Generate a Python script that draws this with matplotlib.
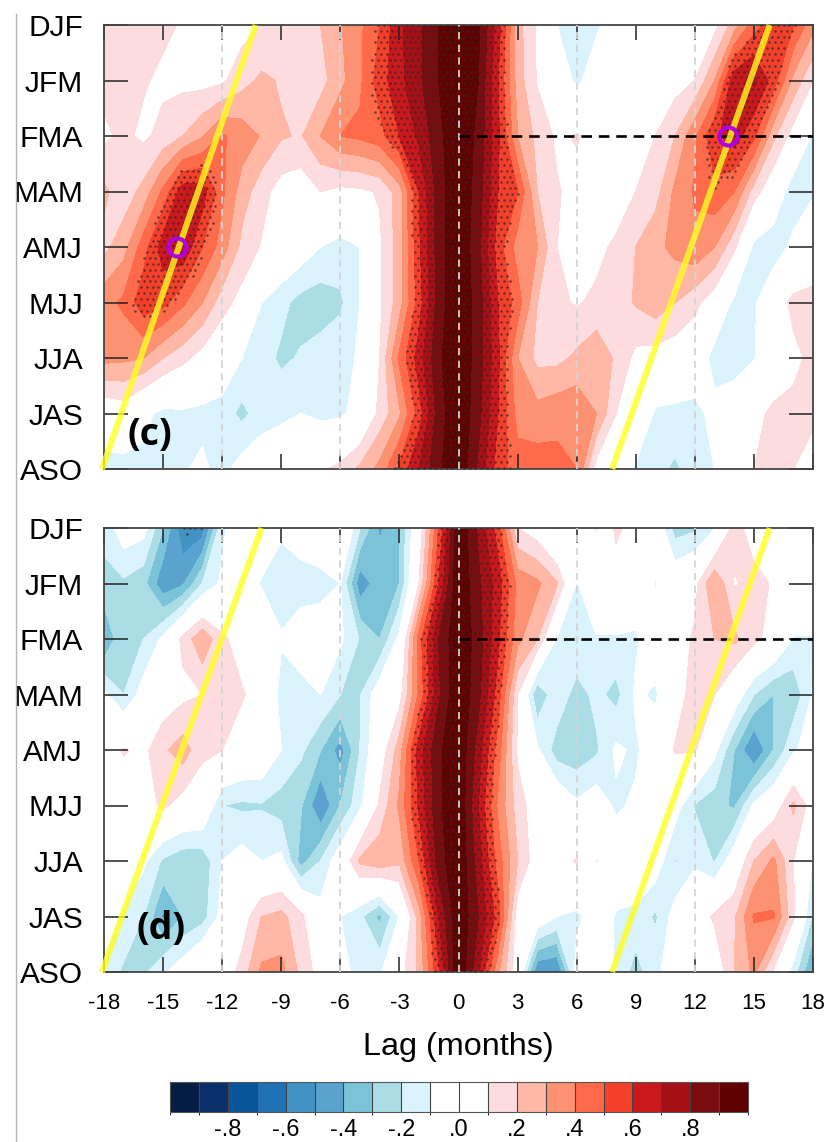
import numpy as np
import matplotlib
matplotlib.use('Agg')
import matplotlib.pyplot as plt
from matplotlib.colors import ListedColormap, BoundaryNorm
from matplotlib.colorbar import ColorbarBase

plt.rcParams['font.family'] = ['Liberation Sans', 'DejaVu Sans']

W, H = 825, 1142

seasons = ['DJF', 'JFM', 'FMA', 'MAM', 'AMJ', 'MJJ', 'JJA', 'JAS', 'ASO']
lags = np.arange(-18, 19)
lag_ticks = np.arange(-18, 19, 3)
levels = np.round(np.arange(-1, 1.01, 0.1), 1)
bar_ticks = [-.8, -.6, -.4, -.2, 0, .2, .4, .6, .8]
bar_labels = ['-.8', '-.6', '-.4', '-.2', '.0', '.2', '.4', '.6', '.8']
colors = ['#051c44', '#08306b', '#08559b', '#2171b5', '#4292c6', '#5ba3cf', '#7bc3d9', '#abdde6',
          '#daf3fd', '#ffffff', '#ffffff', '#fddcdf', '#feb8a5', '#fc9272', '#ff6a4a', '#f4402a',
          '#cb181d', '#a50f15', '#7a0c10', '#600000']

# panel c, one row per season, lag -18 to 18
c_djf = [.15, .14, .13, .12, .09, .06, .05, .06, .1, .13, .16, .2, .29, .38, .5, .68, .78, .9, 1.0,
         .92, .65, .24, .08, -.1, -.15, -.12, -.03, .02, .1, .05, .03, .06, .25, .45, .55, .5, .33]
c_jfm = [.13, .12, .11, .08, .07, .06, .08, .16, .22, .19, .16, .16, .27, .38, .55, .67, .78, .9, 1.0,
         .9, .6, .25, .09, .0, -.13, -.03, 0, .02, .03, .05, .1, .3, .67, .72, .55, .27, .1]
c_fma = [.08, .12, .08, .13, .2, .29, .41, .36, .29, .21, .19, .3, .4, .42, .46, .6, .72, .87, 1.0,
         .87, .62, .3, .17, .08, .11, .05, .03, .05, .1, .2, .38, .58, .65, .52, .22, .05, -.12]
c_mam = [.22, .14, .23, .42, .66, .65, .42, .25, .14, .05, .03, .1, .07, .08, .11, .25, .6, .85, 1.0,
         .85, .6, .5, .2, .11, .06, .02, .03, .1, .16, .32, .41, .47, .4, .15, .0, -.17, -.12]
c_amj = [.17, .26, .45, .65, .68, .5, .35, .17, .09, .03, -.03, -.1, -.14, -.1, .08, .25, .58, .85, 1.0,
         .83, .55, .35, .3, .1, .04, .07, .12, .2, .27, .33, .38, .3, .12, -.13, -.17, -.07, .03]
c_mjj = [.36, .42, .56, .53, .42, .3, .14, .06, -.1, -.17, -.24, -.26, -.22, -.1, .08, .25, .55, .85, 1.0,
         .85, .6, .45, .2, .12, .09, .12, .15, .21, .26, .2, .13, .03, -.13, -.12, .02, .13, .13]
c_jja = [.33, .32, .3, .2, .13, .05, 0, -.1, -.16, -.22, -.19, -.15, -.13, -.09, .1, .42, .65, .88, 1.0,
         .85, .62, .3, .17, .17, .22, .28, .18, .07, .05, .03, 0, -.15, -.17, -.11, .02, .07, .13]
c_jas = [0, .03, -.07, -.13, -.12, -.13, -.15, -.23, -.15, -.13, -.1, -.13, -.12, -.06, .13, .28, .55, .85, 1.0,
         .83, .6, .36, .34, .37, .38, .3, .1, .03, -.12, -.13, -.14, -.06, 0, .07, .12, .13, .13]
c_aso = [-.15, -.15, -.13, -.13, -.11, -.08, -.14, -.05, -.02, .02, .05, .08, .13, .22, .33, .52, .7, .88, 1.0,
         .78, .55, .45, .45, .43, .4, .05, -.02, -.12, -.17, -.22, -.15, -.1, -.02, .1, .14, .1, .03]

# panel d
d_djf = [-.18, -.03, -.06, -.3, -.58, -.56, -.12, -.03, -.02, -.08, -.02, 0, .07, -.2, -.42, -.3, .02, .5, 1.0,
         .78, .55, .1, .03, -.12, -.02, -.12, .13, .03, 0, -.25, -.22, -.11, .14, .05, .02, .02, .02]
d_jfm = [-.22, -.22, -.27, -.48, -.42, -.2, -.08, -.04, -.11, -.16, -.16, -.14, -.1, -.47, -.34, -.3, .1, .6, 1.0,
         .82, .65, .37, .32, .21, -.11, .02, .02, 0, -.11, 0, .06, .3, .09, .13, .09, .03, .02]
d_fma = [-.42, -.2, -.2, -.08, .13, .28, .12, .05, .02, -.09, -.02, -.03, -.08, -.21, -.3, -.07, .45, .8, 1.0,
         .85, .62, .33, .2, -.11, -.1, -.11, -.11, -.12, -.02, .03, .12, .2, .22, .13, .05, -.11, -.11]
d_mam = [-.08, -.2, -.05, .02, .07, .1, .15, .11, .05, -.14, -.15, -.1, -.2, -.21, -.02, .05, .42, .78, 1.0,
         .83, .55, .1, -.3, -.12, -.25, -.17, -.24, -.08, -.12, .04, .15, .1, -.02, -.2, -.3, -.28, -.09]
d_amj = [.02, .11, .07, .18, .25, .12, .1, .04, .02, -.1, -.18, -.3, -.45, -.2, .02, .25, .65, .88, 1.0,
         .75, .45, .08, -.08, -.26, -.27, -.22, -.08, -.12, -.02, .11, .11, -.07, -.3, -.52, -.3, -.12, -.03]
d_mjj = [0, .02, .05, .12, .05, .03, -.2, -.22, -.21, -.25, -.29, -.5, -.3, -.13, .12, .32, .62, .88, 1.0,
         .7, .38, .15, .03, .02, -.08, -.03, -.12, -.08, -.02, -.05, -.21, -.26, -.32, -.08, .01, .22, .03]
d_jja = [0, -.02, -.08, -.22, -.27, -.27, -.1, -.05, -.1, -.07, -.35, -.2, -.02, .22, .27, .22, .5, .85, 1.0,
         .75, .45, .2, .03, .05, .11, -.11, -.02, 0, -.03, -.21, -.12, -.21, -.02, .2, .32, .1, -.11]
d_jas = [-.03, -.12, -.2, -.42, -.3, -.25, -.06, .03, .2, .23, .13, -.05, -.1, -.18, -.33, -.1, .25, .7, 1.0,
         .8, .55, .03, 0, -.1, -.13, -.03, -.11, -.13, -.22, -.05, .01, .12, .18, .41, .41, .12, -.22]
d_aso = [-.13, -.22, -.22, -.12, -.03, .1, .02, .14, .32, .33, .17, .05, -.08, -.12, -.12, .05, .22, .58, 1.0,
         .72, .32, .02, -.5, -.52, -.05, -.03, -.11, -.25, -.12, -.05, -.1, 0, .2, .32, .08, -.15, -.42]

c_rows = [c_djf, c_jfm, c_fma, c_mam, c_amj, c_mjj, c_jja, c_jas, c_aso]
d_rows = [d_djf, d_jfm, d_fma, d_mam, d_amj, d_mjj, d_jja, d_jas, d_aso]

cmap = ListedColormap(colors)
norm = BoundaryNorm(levels, cmap.N)


def px_axes(left, top, right, bottom):
    return fig.add_axes([left / W, 1 - bottom / H, (right - left) / W, (bottom - top) / H])


def stipple(ax, z, thresh):
    # dots on a staggered grid wherever the field is strong enough
    yy = np.arange(0, 8.01, 0.105)
    for i, y in enumerate(yy):
        j = min(int(y), 7)
        row = z[j] + (z[j + 1] - z[j]) * (y - j)
        xx = np.arange(-18 + (i % 2) * 0.145, 18, 0.29)
        val = np.interp(xx, lags, row)
        keep = (val >= thresh) | (val <= -0.55)
        ax.scatter(xx[keep], np.full(keep.sum(), y), s=3.2, color='#2a2a2a', alpha=0.75, linewidths=0, zorder=3)


def panel(ax, rows, thresh, letter, letter_x, letter_y, yellow_left, yellow_right):
    z = np.clip(np.array(rows), -.99, .99)
    cs = ax.contourf(lags, np.arange(9), z, levels=levels, cmap=cmap, norm=norm)
    cs.set_edgecolor('face')
    cs.set_linewidth(0.3)
    stipple(ax, z, thresh)
    for lag in [-12, -6, 0, 6, 12]:
        ax.axvline(lag, color='#d4d4d4', lw=1.3, ls=(0, (4, 3)), zorder=4)
    ax.plot([0, 18], [2, 2], color='black', lw=1.9, ls=(0, (4, 2.6)), zorder=5)
    for xa, xb in [yellow_left, yellow_right]:
        ax.plot([xa, xb], [8, 0], color='#ffff20', alpha=0.8, lw=4.4, zorder=6,
                clip_on=False, solid_capstyle='butt')
    ax.set_xlim(-18, 18)
    ax.set_ylim(8, 0)
    ax.set_xticks(lag_ticks)
    ax.set_yticks(np.arange(9))
    ax.set_yticklabels(seasons, fontsize=21.5)
    ax.tick_params(axis='x', direction='in', length=11, width=1.1, top=True, bottom=True, color='#222222')
    ax.tick_params(axis='y', direction='in', length=17, width=1.1, left=True, right=True, color='#222222', pad=15)
    for s in ax.spines.values():
        s.set_linewidth(1.3)
        s.set_color('#444444')
    ax.text(letter_x, letter_y, letter, fontsize=27, fontweight='bold', family='Open Sans',
            ha='center', va='center', zorder=7)


fig = plt.figure(figsize=(W / 100, H / 100), dpi=100)

# thin page rule on the left, left over in the reference
fig.add_artist(plt.Line2D([15.5 / W, 15.5 / W], [0, 1 - 14 / H], color='#b5b5b5', lw=1))

ax_c = px_axes(104, 25, 813, 469)
panel(ax_c, c_rows, 0.47, '(c)', -15.65, 7.39, (-18.1, -10.3), (7.8, 15.8))
ax_c.set_xticklabels([])
ax_c.plot([-14.3, 13.7], [4, 2], ls='none', marker='o', ms=13, mfc='none', mec='#b000e0', mew=3, zorder=8)

ax_d = px_axes(104, 528, 813, 972)
panel(ax_d, d_rows, 0.48, '(d)', -15.1, 7.23, (-18.1, -10.0), (7.8, 15.8))
ax_d.set_xticklabels([str(v) for v in lag_ticks], fontsize=16)
ax_d.tick_params(axis='x', pad=15)
ax_d.set_xlabel('Lag (months)', fontsize=23.3, labelpad=13)

cax = px_axes(170, 1082, 748, 1112)
cb = ColorbarBase(cax, cmap=cmap, norm=norm, orientation='horizontal', ticks=bar_ticks, drawedges=True)
cb.ax.set_xticklabels(bar_labels, fontsize=17)
cb.ax.tick_params(length=0, pad=5)
cb.dividers.set_color('#444444')
cb.dividers.set_linewidth(0.8)
cb.outline.set_edgecolor('#555555')

fig.savefig('out.png', dpi=100)
